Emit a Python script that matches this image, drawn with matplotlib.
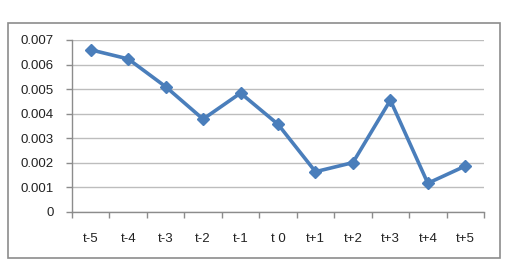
import matplotlib
matplotlib.use("Agg")
import matplotlib.pyplot as plt
from matplotlib.patches import Rectangle
import numpy as np

categories = ["t-5", "t-4", "t-3", "t-2", "t-1", "t 0", "t+1", "t+2", "t+3", "t+4", "t+5"]
values = [0.0066, 0.00623, 0.0051, 0.00378, 0.00484, 0.00357, 0.00164, 0.00201, 0.00455, 0.00117, 0.00187]
yticks = [0, 0.001, 0.002, 0.003, 0.004, 0.005, 0.006, 0.007]
ytick_labels = ["0", "0.001", "0.002", "0.003", "0.004", "0.005", "0.006", "0.007"]

W, H = 506, 262
fig = plt.figure(figsize=(W / 100, H / 100), dpi=100)
fig.patch.set_facecolor("white")

# outer chart border
fig.patches.append(Rectangle((8 / W, 1 - 258 / H), 492 / W, 235 / H, transform=fig.transFigure,
                             fill=False, edgecolor="#8c8c8c", linewidth=1.2))

ax = fig.add_axes([72 / W, 1 - 212 / H, 412 / W, 172 / H])
x = np.arange(len(categories))
color = "#4a7ebb"
ax.plot(x, values, color=color, linewidth=2.6, marker="D", markersize=6.5,
        markerfacecolor=color, markeredgecolor=color)

ax.set_xlim(-0.5, len(categories) - 0.5)
ax.set_ylim(0, 0.007)
ax.set_yticks(yticks)
ax.set_yticklabels(ytick_labels)
ax.yaxis.grid(True, color="#bdbdbd", linewidth=1.0)
ax.set_axisbelow(True)

ax.set_xticks(np.arange(-0.5, len(categories), 1.0))
ax.set_xticklabels([])
ax.set_xticks(x, minor=True)
ax.set_xticklabels(categories, minor=True)
ax.tick_params(axis="x", which="major", length=4, color="#8c8c8c", width=1)
ax.tick_params(axis="x", which="minor", length=0, pad=15, labelsize=9.5, labelcolor="#222222")
ax.tick_params(axis="y", length=4, color="#8c8c8c", width=1, pad=9, labelsize=9.5, labelcolor="#222222")

for s in ["top", "right"]:
    ax.spines[s].set_visible(False)
for s in ["left", "bottom"]:
    ax.spines[s].set_color("#8c8c8c")
    ax.spines[s].set_linewidth(1.0)

for lab in ax.get_xticklabels(minor=True) + ax.get_yticklabels():
    lab.set_fontfamily("Liberation Sans")

fig.savefig("out.png", dpi=100, facecolor="white")
